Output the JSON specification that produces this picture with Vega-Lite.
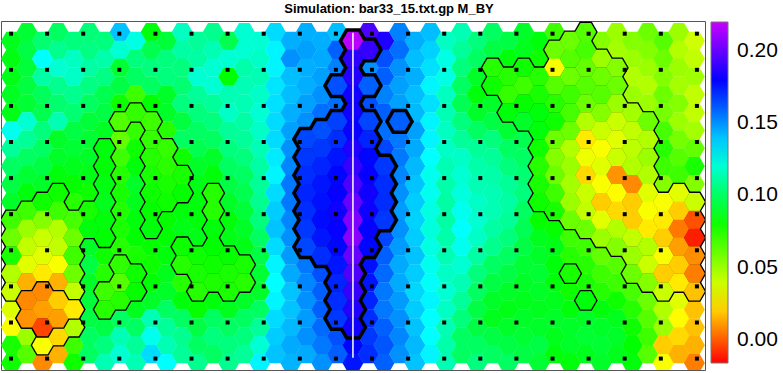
{
"$schema":"https://vega.github.io/schema/vega-lite/v6.json",
"width":704,"height":349,
"autosize":{"type":"none"},
"padding":{"left":1,"top":21,"right":78,"bottom":3},
"background":"white",
"config":{"view":{"stroke":"#555","strokeWidth":1}},
"title":{"text":"Simulation: bar33_15.txt.gp M_BY","font":"Liberation Sans","fontSize":13,"fontWeight":"bold","color":"black","anchor":"middle","dx":36,"offset":5},
"datasets":{
"line":[{"x":22,"y1":0.05,"y2":18.2}],
"dots":[
{"i":0,"j":0},{"i":1,"j":0},{"i":2,"j":0},{"i":3,"j":0},{"i":4,"j":0},{"i":5,"j":0},{"i":6,"j":0},{"i":7,"j":0},{"i":8,"j":0},{"i":9,"j":0},{"i":10,"j":0},{"i":11,"j":0},{"i":12,"j":0},{"i":13,"j":0},{"i":14,"j":0},{"i":15,"j":0},{"i":16,"j":0},{"i":17,"j":0},{"i":18,"j":0},{"i":19,"j":0},
{"i":0,"j":1},{"i":1,"j":1},{"i":2,"j":1},{"i":3,"j":1},{"i":4,"j":1},{"i":5,"j":1},{"i":6,"j":1},{"i":7,"j":1},{"i":8,"j":1},{"i":9,"j":1},{"i":10,"j":1},{"i":11,"j":1},{"i":12,"j":1},{"i":13,"j":1},{"i":14,"j":1},{"i":15,"j":1},{"i":16,"j":1},{"i":17,"j":1},{"i":18,"j":1},{"i":19,"j":1},
{"i":0,"j":2},{"i":1,"j":2},{"i":2,"j":2},{"i":3,"j":2},{"i":4,"j":2},{"i":5,"j":2},{"i":6,"j":2},{"i":7,"j":2},{"i":8,"j":2},{"i":9,"j":2},{"i":10,"j":2},{"i":11,"j":2},{"i":12,"j":2},{"i":13,"j":2},{"i":14,"j":2},{"i":15,"j":2},{"i":16,"j":2},{"i":17,"j":2},{"i":18,"j":2},{"i":19,"j":2},
{"i":0,"j":3},{"i":1,"j":3},{"i":2,"j":3},{"i":3,"j":3},{"i":4,"j":3},{"i":5,"j":3},{"i":6,"j":3},{"i":7,"j":3},{"i":8,"j":3},{"i":9,"j":3},{"i":10,"j":3},{"i":11,"j":3},{"i":12,"j":3},{"i":13,"j":3},{"i":14,"j":3},{"i":15,"j":3},{"i":16,"j":3},{"i":17,"j":3},{"i":18,"j":3},{"i":19,"j":3},
{"i":0,"j":4},{"i":1,"j":4},{"i":2,"j":4},{"i":3,"j":4},{"i":4,"j":4},{"i":5,"j":4},{"i":6,"j":4},{"i":7,"j":4},{"i":8,"j":4},{"i":9,"j":4},{"i":10,"j":4},{"i":11,"j":4},{"i":12,"j":4},{"i":13,"j":4},{"i":14,"j":4},{"i":15,"j":4},{"i":16,"j":4},{"i":17,"j":4},{"i":18,"j":4},{"i":19,"j":4},
{"i":0,"j":5},{"i":1,"j":5},{"i":2,"j":5},{"i":3,"j":5},{"i":4,"j":5},{"i":5,"j":5},{"i":6,"j":5},{"i":7,"j":5},{"i":8,"j":5},{"i":9,"j":5},{"i":10,"j":5},{"i":11,"j":5},{"i":12,"j":5},{"i":13,"j":5},{"i":14,"j":5},{"i":15,"j":5},{"i":16,"j":5},{"i":17,"j":5},{"i":18,"j":5},{"i":19,"j":5},
{"i":0,"j":6},{"i":1,"j":6},{"i":2,"j":6},{"i":3,"j":6},{"i":4,"j":6},{"i":5,"j":6},{"i":6,"j":6},{"i":7,"j":6},{"i":8,"j":6},{"i":9,"j":6},{"i":10,"j":6},{"i":11,"j":6},{"i":12,"j":6},{"i":13,"j":6},{"i":14,"j":6},{"i":15,"j":6},{"i":16,"j":6},{"i":17,"j":6},{"i":18,"j":6},{"i":19,"j":6},
{"i":0,"j":7},{"i":1,"j":7},{"i":2,"j":7},{"i":3,"j":7},{"i":4,"j":7},{"i":5,"j":7},{"i":6,"j":7},{"i":7,"j":7},{"i":8,"j":7},{"i":9,"j":7},{"i":10,"j":7},{"i":11,"j":7},{"i":12,"j":7},{"i":13,"j":7},{"i":14,"j":7},{"i":15,"j":7},{"i":16,"j":7},{"i":17,"j":7},{"i":18,"j":7},{"i":19,"j":7},
{"i":0,"j":8},{"i":1,"j":8},{"i":2,"j":8},{"i":3,"j":8},{"i":4,"j":8},{"i":5,"j":8},{"i":6,"j":8},{"i":7,"j":8},{"i":8,"j":8},{"i":9,"j":8},{"i":10,"j":8},{"i":11,"j":8},{"i":12,"j":8},{"i":13,"j":8},{"i":14,"j":8},{"i":15,"j":8},{"i":16,"j":8},{"i":17,"j":8},{"i":18,"j":8},{"i":19,"j":8},
{"i":0,"j":9},{"i":1,"j":9},{"i":2,"j":9},{"i":3,"j":9},{"i":4,"j":9},{"i":5,"j":9},{"i":6,"j":9},{"i":7,"j":9},{"i":8,"j":9},{"i":9,"j":9},{"i":10,"j":9},{"i":11,"j":9},{"i":12,"j":9},{"i":13,"j":9},{"i":14,"j":9},{"i":15,"j":9},{"i":16,"j":9},{"i":17,"j":9},{"i":18,"j":9},{"i":19,"j":9}
],
"hex":[
{"x":0,"y":0.5,"v":0.088},{"x":0,"y":1.5,"v":0.086},{"x":0,"y":2.5,"v":0.087},{"x":0,"y":3.5,"v":0.089},{"x":0,"y":4.5,"v":0.087},{"x":0,"y":5.5,"v":0.125},{"x":0,"y":6.5,"v":0.11},{"x":0,"y":7.5,"v":0.1},{"x":0,"y":8.5,"v":0.095},{"x":0,"y":9.5,"v":0.09},{"x":0,"y":10.5,"v":0.07,"g":1},{"x":0,"y":11.5,"v":0.06,"g":1},{"x":0,"y":12.5,"v":0.078,"g":1},{"x":0,"y":13.5,"v":0.045,"g":1},{"x":0,"y":14.5,"v":0.04,"g":1},{"x":0,"y":15.5,"v":0.036},{"x":0,"y":16.5,"v":0.03},{"x":0,"y":17.5,"v":0.078},{"x":0,"y":18.5,"v":0.08},
{"x":1,"y":0,"v":0.092},{"x":1,"y":1,"v":0.095},{"x":1,"y":2,"v":0.093},{"x":1,"y":3,"v":0.094},{"x":1,"y":4,"v":0.092},{"x":1,"y":5,"v":0.12},{"x":1,"y":6,"v":0.11},{"x":1,"y":7,"v":0.1},{"x":1,"y":8,"v":0.092},{"x":1,"y":9,"v":0.085},{"x":1,"y":10,"v":0.07,"g":1},{"x":1,"y":11,"v":0.05,"g":1},{"x":1,"y":12,"v":0.042,"g":1},{"x":1,"y":13,"v":0.035,"g":1},{"x":1,"y":14,"v":0.015,"g":1},{"x":1,"y":15,"v":0.008,"g":2},{"x":1,"y":16,"v":0.01,"g":2},{"x":1,"y":17,"v":0.05},{"x":1,"y":18,"v":0.065},
{"x":2,"y":0.5,"v":0.103},{"x":2,"y":1.5,"v":0.128},{"x":2,"y":2.5,"v":0.112},{"x":2,"y":3.5,"v":0.099},{"x":2,"y":4.5,"v":0.097},{"x":2,"y":5.5,"v":0.105},{"x":2,"y":6.5,"v":0.1},{"x":2,"y":7.5,"v":0.095},{"x":2,"y":8.5,"v":0.09},{"x":2,"y":9.5,"v":0.08,"g":1},{"x":2,"y":10.5,"v":0.055,"g":1},{"x":2,"y":11.5,"v":0.04,"g":1},{"x":2,"y":12.5,"v":0.035,"g":1},{"x":2,"y":13.5,"v":0.025,"g":1},{"x":2,"y":14.5,"v":0.008,"g":2},{"x":2,"y":15.5,"v":0.012,"g":2},{"x":2,"y":16.5,"v":-0.004,"g":2},{"x":2,"y":17.5,"v":0.03,"g":1},{"x":2,"y":18.5,"v":0.008},
{"x":3,"y":0,"v":0.1},{"x":3,"y":1,"v":0.108},{"x":3,"y":2,"v":0.12},{"x":3,"y":3,"v":0.108},{"x":3,"y":4,"v":0.102},{"x":3,"y":5,"v":0.115},{"x":3,"y":6,"v":0.09},{"x":3,"y":7,"v":0.09},{"x":3,"y":8,"v":0.085},{"x":3,"y":9,"v":0.08,"g":1},{"x":3,"y":10,"v":0.07,"g":1},{"x":3,"y":11,"v":0.045,"g":1},{"x":3,"y":12,"v":0.042,"g":1},{"x":3,"y":13,"v":0.03,"g":1},{"x":3,"y":14,"v":0.015,"g":1},{"x":3,"y":15,"v":0.02,"g":2},{"x":3,"y":16,"v":0.012,"g":2},{"x":3,"y":17,"v":0.022,"g":1},{"x":3,"y":18,"v":0.015},
{"x":4,"y":0.5,"v":0.105},{"x":4,"y":1.5,"v":0.117},{"x":4,"y":2.5,"v":0.118},{"x":4,"y":3.5,"v":0.108},{"x":4,"y":4.5,"v":0.103},{"x":4,"y":5.5,"v":0.095},{"x":4,"y":6.5,"v":0.092},{"x":4,"y":7.5,"v":0.088},{"x":4,"y":8.5,"v":0.082},{"x":4,"y":9.5,"v":0.075},{"x":4,"y":10.5,"v":0.068,"g":1},{"x":4,"y":11.5,"v":0.06,"g":1},{"x":4,"y":12.5,"v":0.07,"g":1},{"x":4,"y":13.5,"v":0.06,"g":1},{"x":4,"y":14.5,"v":0.042,"g":1},{"x":4,"y":15.5,"v":0.025,"g":2},{"x":4,"y":16.5,"v":0.045,"g":1},{"x":4,"y":17.5,"v":0.07},{"x":4,"y":18.5,"v":0.08},
{"x":5,"y":0,"v":0.104},{"x":5,"y":1,"v":0.106},{"x":5,"y":2,"v":0.112},{"x":5,"y":3,"v":0.106},{"x":5,"y":4,"v":0.1},{"x":5,"y":5,"v":0.093},{"x":5,"y":6,"v":0.092},{"x":5,"y":7,"v":0.09},{"x":5,"y":8,"v":0.087},{"x":5,"y":9,"v":0.08},{"x":5,"y":10,"v":0.078,"g":1},{"x":5,"y":11,"v":0.085,"g":1},{"x":5,"y":12,"v":0.09},{"x":5,"y":13,"v":0.095},{"x":5,"y":14,"v":0.09},{"x":5,"y":15,"v":0.093},{"x":5,"y":16,"v":0.095},{"x":5,"y":17,"v":0.1},{"x":5,"y":18,"v":0.1},
{"x":6,"y":0.5,"v":0.105},{"x":6,"y":1.5,"v":0.113},{"x":6,"y":2.5,"v":0.106},{"x":6,"y":3.5,"v":0.097},{"x":6,"y":4.5,"v":0.095},{"x":6,"y":5.5,"v":0.089},{"x":6,"y":6.5,"v":0.085,"g":1},{"x":6,"y":7.5,"v":0.084,"g":1},{"x":6,"y":8.5,"v":0.086,"g":1},{"x":6,"y":9.5,"v":0.088,"g":1},{"x":6,"y":10.5,"v":0.085,"g":1},{"x":6,"y":11.5,"v":0.083,"g":1},{"x":6,"y":12.5,"v":0.08},{"x":6,"y":13.5,"v":0.075},{"x":6,"y":14.5,"v":0.07,"g":1},{"x":6,"y":15.5,"v":0.075,"g":1},{"x":6,"y":16.5,"v":0.095},{"x":6,"y":17.5,"v":0.105},{"x":6,"y":18.5,"v":0.115},
{"x":7,"y":0,"v":0.14},{"x":7,"y":1,"v":0.12},{"x":7,"y":2,"v":0.092},{"x":7,"y":3,"v":0.095},{"x":7,"y":4,"v":0.08},{"x":7,"y":5,"v":0.066,"g":1},{"x":7,"y":6,"v":0.062},{"x":7,"y":7,"v":0.07},{"x":7,"y":8,"v":0.075},{"x":7,"y":9,"v":0.078},{"x":7,"y":10,"v":0.076},{"x":7,"y":11,"v":0.077},{"x":7,"y":12,"v":0.075},{"x":7,"y":13,"v":0.073,"g":1},{"x":7,"y":14,"v":0.065,"g":1},{"x":7,"y":15,"v":0.075,"g":1},{"x":7,"y":16,"v":0.1},{"x":7,"y":17,"v":0.115},{"x":7,"y":18,"v":0.12},
{"x":8,"y":0.5,"v":0.123},{"x":8,"y":1.5,"v":0.105},{"x":8,"y":2.5,"v":0.1},{"x":8,"y":3.5,"v":0.07},{"x":8,"y":4.5,"v":0.072,"g":1},{"x":8,"y":5.5,"v":0.072},{"x":8,"y":6.5,"v":0.08},{"x":8,"y":7.5,"v":0.085},{"x":8,"y":8.5,"v":0.09},{"x":8,"y":9.5,"v":0.088},{"x":8,"y":10.5,"v":0.085},{"x":8,"y":11.5,"v":0.083},{"x":8,"y":12.5,"v":0.078},{"x":8,"y":13.5,"v":0.08,"g":1},{"x":8,"y":14.5,"v":0.082,"g":1},{"x":8,"y":15.5,"v":0.088},{"x":8,"y":16.5,"v":0.1},{"x":8,"y":17.5,"v":0.11},{"x":8,"y":18.5,"v":0.115},
{"x":9,"y":0,"v":0.085},{"x":9,"y":1,"v":0.097},{"x":9,"y":2,"v":0.105},{"x":9,"y":3,"v":0.1},{"x":9,"y":4,"v":0.083},{"x":9,"y":5,"v":0.07,"g":1},{"x":9,"y":6,"v":0.072,"g":1},{"x":9,"y":7,"v":0.075,"g":1},{"x":9,"y":8,"v":0.078,"g":1},{"x":9,"y":9,"v":0.08,"g":1},{"x":9,"y":10,"v":0.082,"g":1},{"x":9,"y":11,"v":0.085,"g":1},{"x":9,"y":12,"v":0.082},{"x":9,"y":13,"v":0.08},{"x":9,"y":14,"v":0.083},{"x":9,"y":15,"v":0.09},{"x":9,"y":16,"v":0.115},{"x":9,"y":17,"v":0.125},{"x":9,"y":18,"v":0.135},
{"x":10,"y":0.5,"v":0.093},{"x":10,"y":1.5,"v":0.105},{"x":10,"y":2.5,"v":0.105},{"x":10,"y":3.5,"v":0.09},{"x":10,"y":4.5,"v":0.09},{"x":10,"y":5.5,"v":0.075},{"x":10,"y":6.5,"v":0.072,"g":1},{"x":10,"y":7.5,"v":0.074,"g":1},{"x":10,"y":8.5,"v":0.078,"g":1},{"x":10,"y":9.5,"v":0.08,"g":1},{"x":10,"y":10.5,"v":0.082},{"x":10,"y":11.5,"v":0.083},{"x":10,"y":12.5,"v":0.085},{"x":10,"y":13.5,"v":0.088},{"x":10,"y":14.5,"v":0.09},{"x":10,"y":15.5,"v":0.1},{"x":10,"y":16.5,"v":0.11},{"x":10,"y":17.5,"v":0.115},{"x":10,"y":18.5,"v":0.128},
{"x":11,"y":0,"v":0.117},{"x":11,"y":1,"v":0.112},{"x":11,"y":2,"v":0.105},{"x":11,"y":3,"v":0.103},{"x":11,"y":4,"v":0.105},{"x":11,"y":5,"v":0.094},{"x":11,"y":6,"v":0.1},{"x":11,"y":7,"v":0.08},{"x":11,"y":8,"v":0.078,"g":1},{"x":11,"y":9,"v":0.082,"g":1},{"x":11,"y":10,"v":0.085},{"x":11,"y":11,"v":0.087},{"x":11,"y":12,"v":0.08,"g":1},{"x":11,"y":13,"v":0.075,"g":1},{"x":11,"y":14,"v":0.075},{"x":11,"y":15,"v":0.085},{"x":11,"y":16,"v":0.1},{"x":11,"y":17,"v":0.108},{"x":11,"y":18,"v":0.11},
{"x":12,"y":0.5,"v":0.11},{"x":12,"y":1.5,"v":0.112},{"x":12,"y":2.5,"v":0.12},{"x":12,"y":3.5,"v":0.11},{"x":12,"y":4.5,"v":0.105},{"x":12,"y":5.5,"v":0.1},{"x":12,"y":6.5,"v":0.097},{"x":12,"y":7.5,"v":0.09},{"x":12,"y":8.5,"v":0.087},{"x":12,"y":9.5,"v":0.085},{"x":12,"y":10.5,"v":0.085},{"x":12,"y":11.5,"v":0.087},{"x":12,"y":12.5,"v":0.08,"g":1},{"x":12,"y":13.5,"v":0.078,"g":1},{"x":12,"y":14.5,"v":0.075,"g":1},{"x":12,"y":15.5,"v":0.082},{"x":12,"y":16.5,"v":0.095},{"x":12,"y":17.5,"v":0.1},{"x":12,"y":18.5,"v":0.108},
{"x":13,"y":0,"v":0.108},{"x":13,"y":1,"v":0.115},{"x":13,"y":2,"v":0.12},{"x":13,"y":3,"v":0.12},{"x":13,"y":4,"v":0.11},{"x":13,"y":5,"v":0.105},{"x":13,"y":6,"v":0.1},{"x":13,"y":7,"v":0.09},{"x":13,"y":8,"v":0.085},{"x":13,"y":9,"v":0.075,"g":1},{"x":13,"y":10,"v":0.075,"g":1},{"x":13,"y":11,"v":0.085,"g":1},{"x":13,"y":12,"v":0.083,"g":1},{"x":13,"y":13,"v":0.08,"g":1},{"x":13,"y":14,"v":0.077,"g":1},{"x":13,"y":15,"v":0.085},{"x":13,"y":16,"v":0.1},{"x":13,"y":17,"v":0.105},{"x":13,"y":18,"v":0.1},
{"x":14,"y":0.5,"v":0.097},{"x":14,"y":1.5,"v":0.12},{"x":14,"y":2.5,"v":0.083},{"x":14,"y":3.5,"v":0.115},{"x":14,"y":4.5,"v":0.118},{"x":14,"y":5.5,"v":0.11},{"x":14,"y":6.5,"v":0.105},{"x":14,"y":7.5,"v":0.1},{"x":14,"y":8.5,"v":0.095},{"x":14,"y":9.5,"v":0.09},{"x":14,"y":10.5,"v":0.085},{"x":14,"y":11.5,"v":0.087},{"x":14,"y":12.5,"v":0.082,"g":1},{"x":14,"y":13.5,"v":0.078,"g":1},{"x":14,"y":14.5,"v":0.077,"g":1},{"x":14,"y":15.5,"v":0.088},{"x":14,"y":16.5,"v":0.1},{"x":14,"y":17.5,"v":0.105},{"x":14,"y":18.5,"v":0.108},
{"x":15,"y":0,"v":0.12},{"x":15,"y":1,"v":0.12},{"x":15,"y":2,"v":0.113},{"x":15,"y":3,"v":0.115},{"x":15,"y":4,"v":0.115},{"x":15,"y":5,"v":0.112},{"x":15,"y":6,"v":0.11},{"x":15,"y":7,"v":0.105},{"x":15,"y":8,"v":0.1},{"x":15,"y":9,"v":0.097},{"x":15,"y":10,"v":0.093},{"x":15,"y":11,"v":0.09},{"x":15,"y":12,"v":0.087},{"x":15,"y":13,"v":0.078,"g":1},{"x":15,"y":14,"v":0.075,"g":1},{"x":15,"y":15,"v":0.09},{"x":15,"y":16,"v":0.1},{"x":15,"y":17,"v":0.105},{"x":15,"y":18,"v":0.11},
{"x":16,"y":0.5,"v":0.12},{"x":16,"y":1.5,"v":0.118},{"x":16,"y":2.5,"v":0.115},{"x":16,"y":3.5,"v":0.118},{"x":16,"y":4.5,"v":0.12},{"x":16,"y":5.5,"v":0.118},{"x":16,"y":6.5,"v":0.115},{"x":16,"y":7.5,"v":0.112},{"x":16,"y":8.5,"v":0.11},{"x":16,"y":9.5,"v":0.108},{"x":16,"y":10.5,"v":0.105},{"x":16,"y":11.5,"v":0.1},{"x":16,"y":12.5,"v":0.095},{"x":16,"y":13.5,"v":0.092},{"x":16,"y":14.5,"v":0.09},{"x":16,"y":15.5,"v":0.1},{"x":16,"y":16.5,"v":0.11},{"x":16,"y":17.5,"v":0.12},{"x":16,"y":18.5,"v":0.13},
{"x":17,"y":0,"v":0.135},{"x":17,"y":1,"v":0.13},{"x":17,"y":2,"v":0.13},{"x":17,"y":3,"v":0.133},{"x":17,"y":4,"v":0.134},{"x":17,"y":5,"v":0.135},{"x":17,"y":6,"v":0.135},{"x":17,"y":7,"v":0.132},{"x":17,"y":8,"v":0.13},{"x":17,"y":9,"v":0.135},{"x":17,"y":10,"v":0.138},{"x":17,"y":11,"v":0.14},{"x":17,"y":12,"v":0.135},{"x":17,"y":13,"v":0.13},{"x":17,"y":14,"v":0.128},{"x":17,"y":15,"v":0.13},{"x":17,"y":16,"v":0.135},{"x":17,"y":17,"v":0.138},{"x":17,"y":18,"v":0.14},
{"x":18,"y":0.5,"v":0.144},{"x":18,"y":1.5,"v":0.15},{"x":18,"y":2.5,"v":0.141},{"x":18,"y":3.5,"v":0.141},{"x":18,"y":4.5,"v":0.144},{"x":18,"y":5.5,"v":0.147},{"x":18,"y":6.5,"v":0.15},{"x":18,"y":7.5,"v":0.152},{"x":18,"y":8.5,"v":0.155},{"x":18,"y":9.5,"v":0.155},{"x":18,"y":10.5,"v":0.152},{"x":18,"y":11.5,"v":0.15},{"x":18,"y":12.5,"v":0.148},{"x":18,"y":13.5,"v":0.145},{"x":18,"y":14.5,"v":0.14},{"x":18,"y":15.5,"v":0.14},{"x":18,"y":16.5,"v":0.142},{"x":18,"y":17.5,"v":0.145},{"x":18,"y":18.5,"v":0.143},
{"x":19,"y":0,"v":0.144},{"x":19,"y":1,"v":0.147},{"x":19,"y":2,"v":0.144},{"x":19,"y":3,"v":0.144},{"x":19,"y":4,"v":0.147},{"x":19,"y":5,"v":0.15},{"x":19,"y":6,"v":0.165,"g":3},{"x":19,"y":7,"v":0.168,"g":3},{"x":19,"y":8,"v":0.17,"g":3},{"x":19,"y":9,"v":0.172,"g":3},{"x":19,"y":10,"v":0.17,"g":3},{"x":19,"y":11,"v":0.168,"g":3},{"x":19,"y":12,"v":0.165,"g":3},{"x":19,"y":13,"v":0.155},{"x":19,"y":14,"v":0.152},{"x":19,"y":15,"v":0.15},{"x":19,"y":16,"v":0.148},{"x":19,"y":17,"v":0.15},{"x":19,"y":18,"v":0.145},
{"x":20,"y":0.5,"v":0.144},{"x":20,"y":1.5,"v":0.145},{"x":20,"y":2.5,"v":0.147},{"x":20,"y":3.5,"v":0.15},{"x":20,"y":4.5,"v":0.157},{"x":20,"y":5.5,"v":0.163,"g":3},{"x":20,"y":6.5,"v":0.168,"g":3},{"x":20,"y":7.5,"v":0.172,"g":3},{"x":20,"y":8.5,"v":0.175,"g":3},{"x":20,"y":9.5,"v":0.176,"g":3},{"x":20,"y":10.5,"v":0.177,"g":3},{"x":20,"y":11.5,"v":0.175,"g":3},{"x":20,"y":12.5,"v":0.17,"g":3},{"x":20,"y":13.5,"v":0.163},{"x":20,"y":14.5,"v":0.16},{"x":20,"y":15.5,"v":0.16},{"x":20,"y":16.5,"v":0.158},{"x":20,"y":17.5,"v":0.155},{"x":20,"y":18.5,"v":0.15},
{"x":21,"y":0,"v":0.141},{"x":21,"y":1,"v":0.16},{"x":21,"y":2,"v":0.153},{"x":21,"y":3,"v":0.163,"g":3},{"x":21,"y":4,"v":0.157},{"x":21,"y":5,"v":0.166,"g":3},{"x":21,"y":6,"v":0.17,"g":3},{"x":21,"y":7,"v":0.175,"g":3},{"x":21,"y":8,"v":0.178,"g":3},{"x":21,"y":9,"v":0.18,"g":3},{"x":21,"y":10,"v":0.182,"g":3},{"x":21,"y":11,"v":0.18,"g":3},{"x":21,"y":12,"v":0.178,"g":3},{"x":21,"y":13,"v":0.175,"g":3},{"x":21,"y":14,"v":0.172,"g":3},{"x":21,"y":15,"v":0.17,"g":3},{"x":21,"y":16,"v":0.168,"g":3},{"x":21,"y":17,"v":0.163},{"x":21,"y":18,"v":0.16},
{"x":22,"y":0.5,"v":0.217,"g":3},{"x":22,"y":1.5,"v":0.188,"g":3},{"x":22,"y":2.5,"v":0.186,"g":3},{"x":22,"y":3.5,"v":0.182,"g":3},{"x":22,"y":4.5,"v":0.182,"g":3},{"x":22,"y":5.5,"v":0.181,"g":3},{"x":22,"y":6.5,"v":0.185,"g":3},{"x":22,"y":7.5,"v":0.19,"g":3},{"x":22,"y":8.5,"v":0.195,"g":3},{"x":22,"y":9.5,"v":0.2,"g":3},{"x":22,"y":10.5,"v":0.205,"g":3},{"x":22,"y":11.5,"v":0.207,"g":3},{"x":22,"y":12.5,"v":0.2,"g":3},{"x":22,"y":13.5,"v":0.195,"g":3},{"x":22,"y":14.5,"v":0.19,"g":3},{"x":22,"y":15.5,"v":0.186,"g":3},{"x":22,"y":16.5,"v":0.182,"g":3},{"x":22,"y":17.5,"v":0.178},{"x":22,"y":18.5,"v":0.175},
{"x":23,"y":0,"v":0.195},{"x":23,"y":1,"v":0.19,"g":3},{"x":23,"y":2,"v":0.15},{"x":23,"y":3,"v":0.16,"g":3},{"x":23,"y":4,"v":0.163},{"x":23,"y":5,"v":0.165,"g":3},{"x":23,"y":6,"v":0.172,"g":3},{"x":23,"y":7,"v":0.178,"g":3},{"x":23,"y":8,"v":0.18,"g":3},{"x":23,"y":9,"v":0.182,"g":3},{"x":23,"y":10,"v":0.182,"g":3},{"x":23,"y":11,"v":0.18,"g":3},{"x":23,"y":12,"v":0.178,"g":3},{"x":23,"y":13,"v":0.176},{"x":23,"y":14,"v":0.175},{"x":23,"y":15,"v":0.172},{"x":23,"y":16,"v":0.17},{"x":23,"y":17,"v":0.168},{"x":23,"y":18,"v":0.17},
{"x":24,"y":0.5,"v":0.185},{"x":24,"y":1.5,"v":0.163},{"x":24,"y":2.5,"v":0.16},{"x":24,"y":3.5,"v":0.153},{"x":24,"y":4.5,"v":0.16},{"x":24,"y":5.5,"v":0.157},{"x":24,"y":6.5,"v":0.165},{"x":24,"y":7.5,"v":0.168,"g":3},{"x":24,"y":8.5,"v":0.17,"g":3},{"x":24,"y":9.5,"v":0.17,"g":3},{"x":24,"y":10.5,"v":0.168,"g":3},{"x":24,"y":11.5,"v":0.165},{"x":24,"y":12.5,"v":0.16},{"x":24,"y":13.5,"v":0.158},{"x":24,"y":14.5,"v":0.155},{"x":24,"y":15.5,"v":0.155},{"x":24,"y":16.5,"v":0.16},{"x":24,"y":17.5,"v":0.162},{"x":24,"y":18.5,"v":0.16},
{"x":25,"y":0,"v":0.153},{"x":25,"y":1,"v":0.157},{"x":25,"y":2,"v":0.15},{"x":25,"y":3,"v":0.147},{"x":25,"y":4,"v":0.147},{"x":25,"y":5,"v":0.16,"g":3},{"x":25,"y":6,"v":0.155},{"x":25,"y":7,"v":0.155},{"x":25,"y":8,"v":0.152},{"x":25,"y":9,"v":0.15},{"x":25,"y":10,"v":0.148},{"x":25,"y":11,"v":0.15},{"x":25,"y":12,"v":0.148},{"x":25,"y":13,"v":0.145},{"x":25,"y":14,"v":0.145},{"x":25,"y":15,"v":0.148},{"x":25,"y":16,"v":0.15},{"x":25,"y":17,"v":0.152},{"x":25,"y":18,"v":0.15},
{"x":26,"y":0.5,"v":0.144},{"x":26,"y":1.5,"v":0.141},{"x":26,"y":2.5,"v":0.144},{"x":26,"y":3.5,"v":0.141},{"x":26,"y":4.5,"v":0.142},{"x":26,"y":5.5,"v":0.147},{"x":26,"y":6.5,"v":0.145},{"x":26,"y":7.5,"v":0.142},{"x":26,"y":8.5,"v":0.14},{"x":26,"y":9.5,"v":0.138},{"x":26,"y":10.5,"v":0.137},{"x":26,"y":11.5,"v":0.138},{"x":26,"y":12.5,"v":0.14},{"x":26,"y":13.5,"v":0.138},{"x":26,"y":14.5,"v":0.136},{"x":26,"y":15.5,"v":0.138},{"x":26,"y":16.5,"v":0.14},{"x":26,"y":17.5,"v":0.142},{"x":26,"y":18.5,"v":0.14},
{"x":27,"y":0,"v":0.141},{"x":27,"y":1,"v":0.137},{"x":27,"y":2,"v":0.134},{"x":27,"y":3,"v":0.13},{"x":27,"y":4,"v":0.134},{"x":27,"y":5,"v":0.13},{"x":27,"y":6,"v":0.13},{"x":27,"y":7,"v":0.128},{"x":27,"y":8,"v":0.125},{"x":27,"y":9,"v":0.125},{"x":27,"y":10,"v":0.123},{"x":27,"y":11,"v":0.122},{"x":27,"y":12,"v":0.123},{"x":27,"y":13,"v":0.125},{"x":27,"y":14,"v":0.127},{"x":27,"y":15,"v":0.13},{"x":27,"y":16,"v":0.128},{"x":27,"y":17,"v":0.128},{"x":27,"y":18,"v":0.13},
{"x":28,"y":0.5,"v":0.117},{"x":28,"y":1.5,"v":0.123},{"x":28,"y":2.5,"v":0.123},{"x":28,"y":3.5,"v":0.117},{"x":28,"y":4.5,"v":0.115},{"x":28,"y":5.5,"v":0.117},{"x":28,"y":6.5,"v":0.118},{"x":28,"y":7.5,"v":0.115},{"x":28,"y":8.5,"v":0.113},{"x":28,"y":9.5,"v":0.112},{"x":28,"y":10.5,"v":0.112},{"x":28,"y":11.5,"v":0.113},{"x":28,"y":12.5,"v":0.115},{"x":28,"y":13.5,"v":0.118},{"x":28,"y":14.5,"v":0.12},{"x":28,"y":15.5,"v":0.118},{"x":28,"y":16.5,"v":0.115},{"x":28,"y":17.5,"v":0.113},{"x":28,"y":18.5,"v":0.115},
{"x":29,"y":0,"v":0.115},{"x":29,"y":1,"v":0.11},{"x":29,"y":2,"v":0.105},{"x":29,"y":3,"v":0.1},{"x":29,"y":4,"v":0.098},{"x":29,"y":5,"v":0.105},{"x":29,"y":6,"v":0.11},{"x":29,"y":7,"v":0.118},{"x":29,"y":8,"v":0.12},{"x":29,"y":9,"v":0.122},{"x":29,"y":10,"v":0.125},{"x":29,"y":11,"v":0.128},{"x":29,"y":12,"v":0.125},{"x":29,"y":13,"v":0.12},{"x":29,"y":14,"v":0.115},{"x":29,"y":15,"v":0.11},{"x":29,"y":16,"v":0.105},{"x":29,"y":17,"v":0.1},{"x":29,"y":18,"v":0.1},
{"x":30,"y":0.5,"v":0.105},{"x":30,"y":1.5,"v":0.1},{"x":30,"y":2.5,"v":0.09},{"x":30,"y":3.5,"v":0.085},{"x":30,"y":4.5,"v":0.09},{"x":30,"y":5.5,"v":0.1},{"x":30,"y":6.5,"v":0.11},{"x":30,"y":7.5,"v":0.113},{"x":30,"y":8.5,"v":0.115},{"x":30,"y":9.5,"v":0.118},{"x":30,"y":10.5,"v":0.12},{"x":30,"y":11.5,"v":0.118},{"x":30,"y":12.5,"v":0.112},{"x":30,"y":13.5,"v":0.105},{"x":30,"y":14.5,"v":0.1},{"x":30,"y":15.5,"v":0.095},{"x":30,"y":16.5,"v":0.095},{"x":30,"y":17.5,"v":0.1},{"x":30,"y":18.5,"v":0.105},
{"x":31,"y":0,"v":0.1},{"x":31,"y":1,"v":0.095},{"x":31,"y":2,"v":0.075,"g":1},{"x":31,"y":3,"v":0.08,"g":1},{"x":31,"y":4,"v":0.09},{"x":31,"y":5,"v":0.095},{"x":31,"y":6,"v":0.105},{"x":31,"y":7,"v":0.11},{"x":31,"y":8,"v":0.113},{"x":31,"y":9,"v":0.115},{"x":31,"y":10,"v":0.115},{"x":31,"y":11,"v":0.112},{"x":31,"y":12,"v":0.108},{"x":31,"y":13,"v":0.1},{"x":31,"y":14,"v":0.095},{"x":31,"y":15,"v":0.09},{"x":31,"y":16,"v":0.088},{"x":31,"y":17,"v":0.095},{"x":31,"y":18,"v":0.1},
{"x":32,"y":0.5,"v":0.095},{"x":32,"y":1.5,"v":0.085},{"x":32,"y":2.5,"v":0.075,"g":1},{"x":32,"y":3.5,"v":0.072,"g":1},{"x":32,"y":4.5,"v":0.085,"g":1},{"x":32,"y":5.5,"v":0.092},{"x":32,"y":6.5,"v":0.1},{"x":32,"y":7.5,"v":0.105},{"x":32,"y":8.5,"v":0.11},{"x":32,"y":9.5,"v":0.112},{"x":32,"y":10.5,"v":0.11},{"x":32,"y":11.5,"v":0.105},{"x":32,"y":12.5,"v":0.1},{"x":32,"y":13.5,"v":0.095},{"x":32,"y":14.5,"v":0.09},{"x":32,"y":15.5,"v":0.087},{"x":32,"y":16.5,"v":0.09},{"x":32,"y":17.5,"v":0.095},{"x":32,"y":18.5,"v":0.1},
{"x":33,"y":0,"v":0.09},{"x":33,"y":1,"v":0.088},{"x":33,"y":2,"v":0.08,"g":1},{"x":33,"y":3,"v":0.07,"g":1},{"x":33,"y":4,"v":0.082,"g":1},{"x":33,"y":5,"v":0.09,"g":1},{"x":33,"y":6,"v":0.097},{"x":33,"y":7,"v":0.1},{"x":33,"y":8,"v":0.103},{"x":33,"y":9,"v":0.105},{"x":33,"y":10,"v":0.1},{"x":33,"y":11,"v":0.098},{"x":33,"y":12,"v":0.095},{"x":33,"y":13,"v":0.092},{"x":33,"y":14,"v":0.09},{"x":33,"y":15,"v":0.088},{"x":33,"y":16,"v":0.09},{"x":33,"y":17,"v":0.092},{"x":33,"y":18,"v":0.095},
{"x":34,"y":0.5,"v":0.085},{"x":34,"y":1.5,"v":0.08},{"x":34,"y":2.5,"v":0.075,"g":1},{"x":34,"y":3.5,"v":0.078,"g":1},{"x":34,"y":4.5,"v":0.085,"g":1},{"x":34,"y":5.5,"v":0.085,"g":1},{"x":34,"y":6.5,"v":0.08,"g":1},{"x":34,"y":7.5,"v":0.075,"g":1},{"x":34,"y":8.5,"v":0.078,"g":1},{"x":34,"y":9.5,"v":0.08,"g":1},{"x":34,"y":10.5,"v":0.082},{"x":34,"y":11.5,"v":0.088},{"x":34,"y":12.5,"v":0.09},{"x":34,"y":13.5,"v":0.092},{"x":34,"y":14.5,"v":0.09},{"x":34,"y":15.5,"v":0.088},{"x":34,"y":16.5,"v":0.09},{"x":34,"y":17.5,"v":0.095},{"x":34,"y":18.5,"v":0.092},
{"x":35,"y":0,"v":0.07},{"x":35,"y":1,"v":0.06,"g":1},{"x":35,"y":2,"v":0.03,"g":1},{"x":35,"y":3,"v":0.065,"g":1},{"x":35,"y":4,"v":0.075,"g":1},{"x":35,"y":5,"v":0.08,"g":1},{"x":35,"y":6,"v":0.06,"g":1},{"x":35,"y":7,"v":0.055,"g":1},{"x":35,"y":8,"v":0.06,"g":1},{"x":35,"y":9,"v":0.07,"g":1},{"x":35,"y":10,"v":0.078,"g":1},{"x":35,"y":11,"v":0.082},{"x":35,"y":12,"v":0.087},{"x":35,"y":13,"v":0.085},{"x":35,"y":14,"v":0.085},{"x":35,"y":15,"v":0.088},{"x":35,"y":16,"v":0.09},{"x":35,"y":17,"v":0.088},{"x":35,"y":18,"v":0.085},
{"x":36,"y":0.5,"v":0.06,"g":1},{"x":36,"y":1.5,"v":0.065,"g":1},{"x":36,"y":2.5,"v":0.06,"g":1},{"x":36,"y":3.5,"v":0.07,"g":1},{"x":36,"y":4.5,"v":0.068,"g":1},{"x":36,"y":5.5,"v":0.06,"g":1},{"x":36,"y":6.5,"v":0.045,"g":1},{"x":36,"y":7.5,"v":0.05,"g":1},{"x":36,"y":8.5,"v":0.048,"g":1},{"x":36,"y":9.5,"v":0.05,"g":1},{"x":36,"y":10.5,"v":0.06,"g":1},{"x":36,"y":11.5,"v":0.07},{"x":36,"y":12.5,"v":0.075},{"x":36,"y":13.5,"v":0.078,"g":1},{"x":36,"y":14.5,"v":0.08},{"x":36,"y":15.5,"v":0.085},{"x":36,"y":16.5,"v":0.09},{"x":36,"y":17.5,"v":0.09},{"x":36,"y":18.5,"v":0.085},
{"x":37,"y":0,"v":0.065,"g":1},{"x":37,"y":1,"v":0.068,"g":1},{"x":37,"y":2,"v":0.062,"g":1},{"x":37,"y":3,"v":0.065,"g":1},{"x":37,"y":4,"v":0.06,"g":1},{"x":37,"y":5,"v":0.045,"g":1},{"x":37,"y":6,"v":0.025,"g":1},{"x":37,"y":7,"v":0.032,"g":1},{"x":37,"y":8,"v":0.022,"g":1},{"x":37,"y":9,"v":0.04,"g":1},{"x":37,"y":10,"v":0.042,"g":1},{"x":37,"y":11,"v":0.06,"g":1},{"x":37,"y":12,"v":0.07},{"x":37,"y":13,"v":0.075},{"x":37,"y":14,"v":0.078},{"x":37,"y":15,"v":0.085,"g":1},{"x":37,"y":16,"v":0.09},{"x":37,"y":17,"v":0.092},{"x":37,"y":18,"v":0.088},
{"x":38,"y":0.5,"v":0.055},{"x":38,"y":1.5,"v":0.05,"g":1},{"x":38,"y":2.5,"v":0.06,"g":1},{"x":38,"y":3.5,"v":0.065,"g":1},{"x":38,"y":4.5,"v":0.055,"g":1},{"x":38,"y":5.5,"v":0.04,"g":1},{"x":38,"y":6.5,"v":0.03,"g":1},{"x":38,"y":7.5,"v":0.035,"g":1},{"x":38,"y":8.5,"v":0.03,"g":1},{"x":38,"y":9.5,"v":0.02,"g":1},{"x":38,"y":10.5,"v":0.035,"g":1},{"x":38,"y":11.5,"v":0.05,"g":1},{"x":38,"y":12.5,"v":0.062},{"x":38,"y":13.5,"v":0.07},{"x":38,"y":14.5,"v":0.075},{"x":38,"y":15.5,"v":0.085},{"x":38,"y":16.5,"v":0.09},{"x":38,"y":17.5,"v":0.092},{"x":38,"y":18.5,"v":0.09},
{"x":39,"y":0,"v":0.05},{"x":39,"y":1,"v":0.048},{"x":39,"y":2,"v":0.055,"g":1},{"x":39,"y":3,"v":0.06,"g":1},{"x":39,"y":4,"v":0.05,"g":1},{"x":39,"y":5,"v":0.04,"g":1},{"x":39,"y":6,"v":0.035,"g":1},{"x":39,"y":7,"v":0.04,"g":1},{"x":39,"y":8,"v":0.01,"g":1},{"x":39,"y":9,"v":0.028,"g":1},{"x":39,"y":10,"v":0.022,"g":1},{"x":39,"y":11,"v":0.045,"g":1},{"x":39,"y":12,"v":0.055,"g":1},{"x":39,"y":13,"v":0.065},{"x":39,"y":14,"v":0.07},{"x":39,"y":15,"v":0.08},{"x":39,"y":16,"v":0.088},{"x":39,"y":17,"v":0.09},{"x":39,"y":18,"v":0.088},
{"x":40,"y":0.5,"v":0.055},{"x":40,"y":1.5,"v":0.05},{"x":40,"y":2.5,"v":0.045},{"x":40,"y":3.5,"v":0.05},{"x":40,"y":4.5,"v":0.048,"g":1},{"x":40,"y":5.5,"v":0.042,"g":1},{"x":40,"y":6.5,"v":0.043,"g":1},{"x":40,"y":7.5,"v":0.045,"g":1},{"x":40,"y":8.5,"v":0.008,"g":1},{"x":40,"y":9.5,"v":0.02,"g":1},{"x":40,"y":10.5,"v":0.02,"g":1},{"x":40,"y":11.5,"v":0.042,"g":1},{"x":40,"y":12.5,"v":0.05,"g":1},{"x":40,"y":13.5,"v":0.06,"g":1},{"x":40,"y":14.5,"v":0.068},{"x":40,"y":15.5,"v":0.075},{"x":40,"y":16.5,"v":0.08},{"x":40,"y":17.5,"v":0.083},{"x":40,"y":18.5,"v":0.085},
{"x":41,"y":0,"v":0.06},{"x":41,"y":1,"v":0.055},{"x":41,"y":2,"v":0.05},{"x":41,"y":3,"v":0.045},{"x":41,"y":4,"v":0.05},{"x":41,"y":5,"v":0.06,"g":1},{"x":41,"y":6,"v":0.045,"g":1},{"x":41,"y":7,"v":0.05,"g":1},{"x":41,"y":8,"v":0.045,"g":1},{"x":41,"y":9,"v":0.035,"g":1},{"x":41,"y":10,"v":0.03,"g":1},{"x":41,"y":11,"v":0.025,"g":1},{"x":41,"y":12,"v":0.045,"g":1},{"x":41,"y":13,"v":0.04,"g":1},{"x":41,"y":14,"v":0.055,"g":1},{"x":41,"y":15,"v":0.06},{"x":41,"y":16,"v":0.065},{"x":41,"y":17,"v":0.07},{"x":41,"y":18,"v":0.065},
{"x":42,"y":0.5,"v":0.065},{"x":42,"y":1.5,"v":0.06},{"x":42,"y":2.5,"v":0.055},{"x":42,"y":3.5,"v":0.06},{"x":42,"y":4.5,"v":0.058},{"x":42,"y":5.5,"v":0.068},{"x":42,"y":6.5,"v":0.075},{"x":42,"y":7.5,"v":0.07},{"x":42,"y":8.5,"v":0.055},{"x":42,"y":9.5,"v":0.03,"g":1},{"x":42,"y":10.5,"v":0.025,"g":1},{"x":42,"y":11.5,"v":0.02,"g":1},{"x":42,"y":12.5,"v":0.03,"g":1},{"x":42,"y":13.5,"v":0.02,"g":1},{"x":42,"y":14.5,"v":0.04,"g":1},{"x":42,"y":15.5,"v":0.045},{"x":42,"y":16.5,"v":0.05},{"x":42,"y":17.5,"v":0.02},{"x":42,"y":18.5,"v":0.03},
{"x":43,"y":0,"v":0.05},{"x":43,"y":1,"v":0.045},{"x":43,"y":2,"v":0.05},{"x":43,"y":3,"v":0.048},{"x":43,"y":4,"v":0.055},{"x":43,"y":5,"v":0.05},{"x":43,"y":6,"v":0.058},{"x":43,"y":7,"v":0.065},{"x":43,"y":8,"v":0.07},{"x":43,"y":9,"v":0.035,"g":1},{"x":43,"y":10,"v":0.02,"g":1},{"x":43,"y":11,"v":0.005,"g":1},{"x":43,"y":12,"v":0.012,"g":1},{"x":43,"y":13,"v":0.02,"g":1},{"x":43,"y":14,"v":0.025,"g":1},{"x":43,"y":15,"v":0.035},{"x":43,"y":16,"v":0.028},{"x":43,"y":17,"v":0.022},{"x":43,"y":18,"v":0.015},
{"x":44,"y":0.5,"v":0.039},{"x":44,"y":1.5,"v":0.042},{"x":44,"y":2.5,"v":0.049},{"x":44,"y":3.5,"v":0.042},{"x":44,"y":4.5,"v":0.042},{"x":44,"y":5.5,"v":0.048},{"x":44,"y":6.5,"v":0.062},{"x":44,"y":7.5,"v":0.078},{"x":44,"y":8.5,"v":0.055},{"x":44,"y":9.5,"v":0.04,"g":1},{"x":44,"y":10.5,"v":-0.002,"g":1},{"x":44,"y":11.5,"v":-0.011,"g":1},{"x":44,"y":12.5,"v":0.009,"g":1},{"x":44,"y":13.5,"v":0.006,"g":1},{"x":44,"y":14.5,"v":0.018,"g":1},{"x":44,"y":15.5,"v":0.018},{"x":44,"y":16.5,"v":0.018},{"x":44,"y":17.5,"v":0.015},{"x":44,"y":18.5,"v":0.006}
]},
"layer":[
{"data":{"name":"hex"},
 "mark":{"type":"point","shape":"M1,0L0.5,0.865L-0.5,0.865L-1,0L-0.5,-0.865L0.5,-0.865Z","size":440,"filled":true,"opacity":1,"strokeWidth":0,"clip":true},
 "encoding":{
  "x":{"field":"x","type":"quantitative","scale":{"domain":[-0.6765,44.684],"nice":false,"zero":false},"axis":null},
  "y":{"field":"y","type":"quantitative","scale":{"domain":[-0.6117,18.886],"nice":false,"zero":false,"reverse":true},"axis":null},
  "color":{"field":"v","type":"quantitative","scale":{"domain":[-0.016,0.0287,0.083,0.128,0.179,0.22],"range":["#ff0000","#ffff00","#00ff00","#00ffff","#0000ff","#c800ff"],"interpolate":"rgb"},
   "legend":{"orient":"none","legendX":710,"legendY":1,"title":null,"direction":"vertical","gradientLength":341,"gradientThickness":17,"values":[0,0.05,0.1,0.15,0.2],"format":".2f","labelFont":"Liberation Sans","labelFontSize":21,"labelColor":"black","labelOffset":9,"labelOverlap":false,"gradientStrokeColor":"#777","gradientStrokeWidth":1}}}},
{"data":{"name":"hex"},"transform":[{"filter":"datum.g==1||datum.g==2"}],
 "mark":{"type":"point","shape":"M1,0L0.5,0.865L-0.5,0.865L-1,0L-0.5,-0.865L0.5,-0.865Z","size":440,"filled":true,"opacity":1,"fill":"black","stroke":"black","strokeWidth":2.6,"clip":true},
 "encoding":{
  "x":{"field":"x","type":"quantitative","scale":{"domain":[-0.6765,44.684],"nice":false,"zero":false},"axis":null},
  "y":{"field":"y","type":"quantitative","scale":{"domain":[-0.6117,18.886],"nice":false,"zero":false,"reverse":true},"axis":null}}},
{"data":{"name":"hex"},"transform":[{"filter":"datum.g==1||datum.g==2"}],
 "mark":{"type":"point","shape":"M1,0L0.5,0.865L-0.5,0.865L-1,0L-0.5,-0.865L0.5,-0.865Z","size":440,"filled":true,"opacity":1,"strokeWidth":0,"clip":true},
 "encoding":{
  "x":{"field":"x","type":"quantitative","scale":{"domain":[-0.6765,44.684],"nice":false,"zero":false},"axis":null},
  "y":{"field":"y","type":"quantitative","scale":{"domain":[-0.6117,18.886],"nice":false,"zero":false,"reverse":true},"axis":null},
  "color":{"field":"v","type":"quantitative"}}},
{"data":{"name":"hex"},"transform":[{"filter":"datum.g==2"}],
 "mark":{"type":"point","shape":"M1,0L0.5,0.865L-0.5,0.865L-1,0L-0.5,-0.865L0.5,-0.865Z","size":440,"filled":true,"opacity":1,"fill":"black","stroke":"black","strokeWidth":2.6,"clip":true},
 "encoding":{
  "x":{"field":"x","type":"quantitative","scale":{"domain":[-0.6765,44.684],"nice":false,"zero":false},"axis":null},
  "y":{"field":"y","type":"quantitative","scale":{"domain":[-0.6117,18.886],"nice":false,"zero":false,"reverse":true},"axis":null}}},
{"data":{"name":"hex"},"transform":[{"filter":"datum.g==2"}],
 "mark":{"type":"point","shape":"M1,0L0.5,0.865L-0.5,0.865L-1,0L-0.5,-0.865L0.5,-0.865Z","size":440,"filled":true,"opacity":1,"strokeWidth":0,"clip":true},
 "encoding":{
  "x":{"field":"x","type":"quantitative","scale":{"domain":[-0.6765,44.684],"nice":false,"zero":false},"axis":null},
  "y":{"field":"y","type":"quantitative","scale":{"domain":[-0.6117,18.886],"nice":false,"zero":false,"reverse":true},"axis":null},
  "color":{"field":"v","type":"quantitative"}}},
{"data":{"name":"hex"},"transform":[{"filter":"datum.g==3"}],
 "mark":{"type":"point","shape":"M1,0L0.5,0.865L-0.5,0.865L-1,0L-0.5,-0.865L0.5,-0.865Z","size":440,"filled":true,"opacity":1,"fill":"black","stroke":"black","strokeWidth":7,"clip":true},
 "encoding":{
  "x":{"field":"x","type":"quantitative","scale":{"domain":[-0.6765,44.684],"nice":false,"zero":false},"axis":null},
  "y":{"field":"y","type":"quantitative","scale":{"domain":[-0.6117,18.886],"nice":false,"zero":false,"reverse":true},"axis":null}}},
{"data":{"name":"hex"},"transform":[{"filter":"datum.g==3"}],
 "mark":{"type":"point","shape":"M1,0L0.5,0.865L-0.5,0.865L-1,0L-0.5,-0.865L0.5,-0.865Z","size":440,"filled":true,"opacity":1,"strokeWidth":0,"clip":true},
 "encoding":{
  "x":{"field":"x","type":"quantitative","scale":{"domain":[-0.6765,44.684],"nice":false,"zero":false},"axis":null},
  "y":{"field":"y","type":"quantitative","scale":{"domain":[-0.6117,18.886],"nice":false,"zero":false,"reverse":true},"axis":null},
  "color":{"field":"v","type":"quantitative"}}},
{"data":{"name":"line"},
 "mark":{"type":"rule","color":"white","strokeWidth":1.5,"clip":true},
 "encoding":{
  "x":{"field":"x","type":"quantitative","scale":{"domain":[-0.6765,44.684],"nice":false,"zero":false},"axis":null},
  "y":{"field":"y1","type":"quantitative","scale":{"domain":[-0.6117,18.886],"nice":false,"zero":false,"reverse":true},"axis":null},
  "y2":{"field":"y2"}}},
{"data":{"name":"dots"},
 "mark":{"type":"square","size":16,"color":"black","opacity":1,"clip":true},
 "encoding":{
  "x":{"field":"i","type":"quantitative","scale":{"domain":[-0.277,19.224],"nice":false,"zero":false},"axis":null},
  "y":{"field":"j","type":"quantitative","scale":{"domain":[-0.3518,9.3158],"nice":false,"zero":false,"reverse":true},"axis":null}}}
],
"resolve":{"scale":{"x":"independent","y":"independent"}}
}
